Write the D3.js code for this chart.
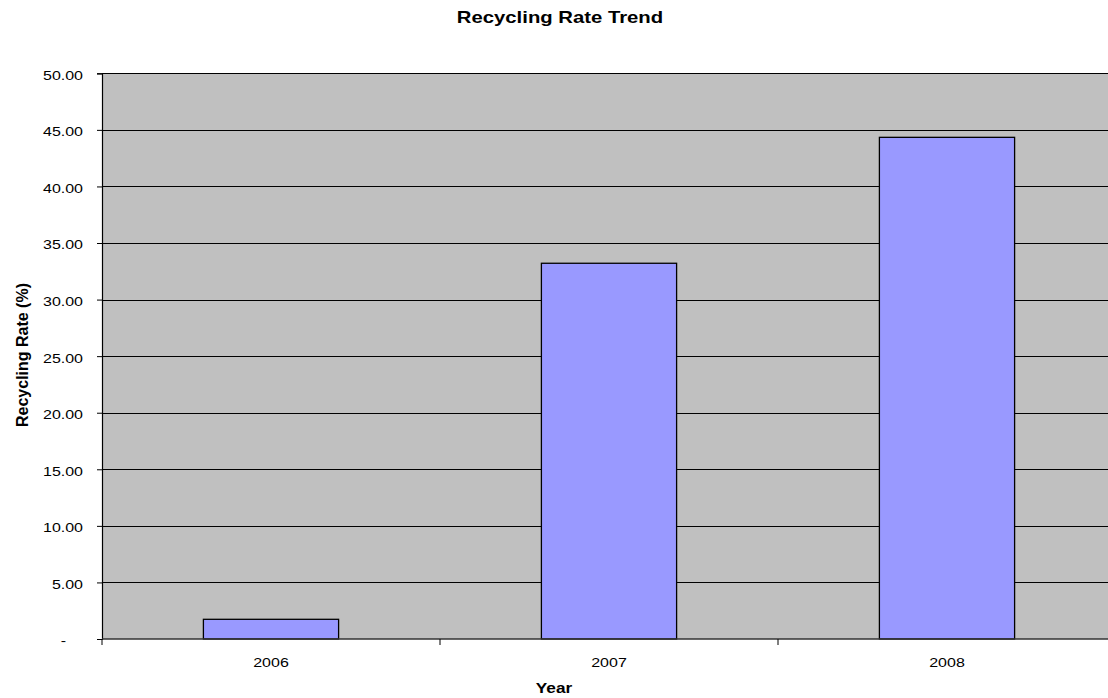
<!DOCTYPE html>
<html>
<head>
<meta charset="utf-8">
<script src="https://cdn.jsdelivr.net/npm/d3@7"></script>
<style>
  body { margin: 0; background: #fff; }
  svg { font-family: "Liberation Sans", Arial, sans-serif; }
</style>
</head>
<body>
<div id="chart"></div>
<script>
const years = ['2006', '2007', '2008'];
const rates = [1.74, 33.21, 44.34];
const yTicks = [0, 5, 10, 15, 20, 25, 30, 35, 40, 45, 50];

const W = 1108, H = 698;
const plot = { left: 102, top: 73.3, right: 1116, bottom: 639 };
// the original text is drawn a bit wider than plain Arial
const stretch = 1.23;

const svg = d3.select('#chart')
  .append('svg')
  .attr('width', W)
  .attr('height', H);

// scales
const xScale = d3.scaleBand()
  .domain(years)
  .range([plot.left, plot.right])
  .paddingInner(0.6)
  .paddingOuter(0.3);

const yScale = d3.scaleLinear()
  .domain([0, 50])
  .range([plot.bottom, plot.top]);

// plot background
svg.append('rect')
  .attr('x', plot.left)
  .attr('y', plot.top)
  .attr('width', plot.right - plot.left)
  .attr('height', plot.bottom - plot.top)
  .style('fill', '#c0c0c0');

// gridlines
svg.append('g')
  .selectAll('line')
  .data(yTicks.filter(d => d > 0))
  .enter()
  .append('line')
  .attr('x1', plot.left)
  .attr('x2', plot.right)
  .attr('y1', d => Math.round(yScale(d)) + 0.5)
  .attr('y2', d => Math.round(yScale(d)) + 0.5)
  .style('stroke', '#000')
  .style('stroke-width', 1);

// bars
svg.selectAll('.bar')
  .data(rates)
  .enter()
  .append('rect')
  .attr('class', 'bar')
  .attr('x', (d, i) => xScale(years[i]))
  .attr('y', d => yScale(d))
  .attr('width', xScale.bandwidth())
  .attr('height', d => plot.bottom - yScale(d))
  .style('fill', '#9999ff')
  .style('stroke', '#000')
  .style('stroke-width', 1.3);

// y axis (zero shown as an accounting dash, set further left)
const yAxis = d3.axisLeft(yScale)
  .tickValues(yTicks)
  .tickSize(5)
  .tickPadding(0)
  .tickFormat(d => d === 0 ? '-' : d3.format('.2f')(d));

svg.append('g')
  .attr('transform', `translate(${plot.left}, 0)`)
  .call(yAxis)
  .call(g => g.select('.domain').style('stroke', '#000').style('stroke-width', 1.2))
  .call(g => g.selectAll('.tick line').style('stroke', '#000'))
  .call(g => g.selectAll('.tick text')
    .attr('x', null)
    .attr('dy', '0.45em')
    .attr('transform', d => `translate(${d === 0 ? -36 : -19}, 0) scale(${stretch}, 1)`)
    .style('font-size', '13px')
    .style('fill', '#000'));

// x axis: ticks sit between categories
const step = xScale.step();
const xTickPos = d3.range(0, years.length + 1).map(i => plot.left + i * step);

svg.append('line')
  .attr('x1', plot.left)
  .attr('x2', plot.right)
  .attr('y1', plot.bottom)
  .attr('y2', plot.bottom)
  .style('stroke', '#333')
  .style('stroke-width', 1.5);

svg.append('g')
  .selectAll('line')
  .data(xTickPos)
  .enter()
  .append('line')
  .attr('x1', d => d)
  .attr('x2', d => d)
  .attr('y1', plot.bottom)
  .attr('y2', plot.bottom + 6)
  .style('stroke', '#000');

svg.append('g')
  .selectAll('text')
  .data(years)
  .enter()
  .append('text')
  .attr('transform', d => `translate(${xScale(d) + xScale.bandwidth() / 2}, ${plot.bottom + 28}) scale(${stretch}, 1)`)
  .attr('text-anchor', 'middle')
  .style('font-size', '13px')
  .text(d => d);

// titles
svg.append('text')
  .text('Recycling Rate Trend')
  .attr('transform', `translate(560, 23) scale(${stretch}, 1)`)
  .attr('text-anchor', 'middle')
  .style('font-size', '16.5px')
  .style('font-weight', 'bold');

svg.append('text')
  .text('Year')
  .attr('transform', `translate(554, 693) scale(${stretch}, 1)`)
  .attr('text-anchor', 'middle')
  .style('font-size', '14px')
  .style('font-weight', 'bold');

svg.append('text')
  .text('Recycling Rate (%)')
  .attr('transform', 'translate(28, 355) scale(1.08, 1) rotate(-90)')
  .attr('text-anchor', 'middle')
  .style('font-size', '16px')
  .style('font-weight', 'bold');
</script>
</body>
</html>
